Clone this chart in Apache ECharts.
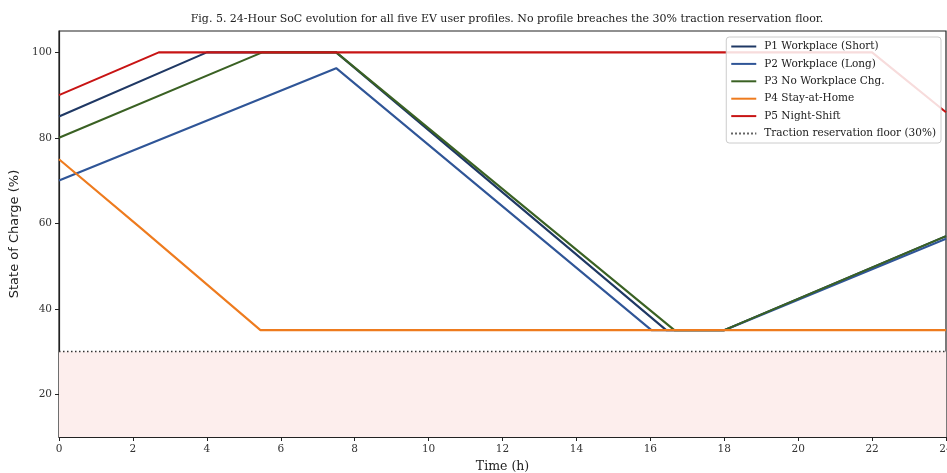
<!DOCTYPE html>
<html>
<head>
<meta charset="utf-8">
<script src="https://cdn.jsdelivr.net/npm/echarts@6/dist/echarts.min.js"></script>
<style>
  html, body { margin: 0; padding: 0; background: #fff; }
  #soc-chart { width: 947px; height: 473px; }
</style>
</head>
<body>
<div id="soc-chart"></div>
<script>
// 24 小时 SoC 曲线 - 五类用户
const profileNames = ['P1 Workplace (Short)', 'P2 Workplace (Long)', 'P3 No Workplace Chg.', 'P4 Stay-at-Home', 'P5 Night-Shift'];
const floorName = 'Traction reservation floor (30%)';

const p1Time = [0, 4.0, 7.5, 16.43, 18, 24];
const p1Soc = [85, 100, 100, 35, 35, 57];
const p2Time = [0, 7.5, 16.03, 18, 24];
const p2Soc = [70, 96.3, 35, 35, 56.4];
const p3Time = [0, 5.5, 7.5, 16.65, 18, 24];
const p3Soc = [80, 100, 100, 35, 35, 57];
const p4Time = [0, 2.2, 5.45, 24];
const p4Soc = [75, 59, 35, 35];
const p5Time = [0, 2.7, 22.0, 24];
const p5Soc = [90, 100, 100, 86];

const floorSoc = 30;
const xTicks = [0, 2, 4, 6, 8, 10, 12, 14, 16, 18, 20, 22, 24];
const yTicks = [20, 40, 60, 80, 100];

const colors = ['#1f3864', '#2f5597', '#3a6123', '#ee7b1e', '#c81414'];
const serif = 'DejaVu Serif';

function pairs(t, v) {
  return t.map((x, i) => [x, v[i]]);
}

const chart = echarts.init(document.getElementById('soc-chart'), null, { renderer: 'canvas' });

const profileSeries = [
  [p1Time, p1Soc], [p2Time, p2Soc], [p3Time, p3Soc], [p4Time, p4Soc], [p5Time, p5Soc]
].map((d, i) => ({
  name: profileNames[i],
  type: 'line',
  data: pairs(d[0], d[1]),
  symbol: 'none',
  z: 3,
  lineStyle: { color: colors[i], width: 2.1 },
  itemStyle: { color: colors[i] }
}));

const option = {
  backgroundColor: '#fff',
  animation: false,
  title: {
    text: 'Fig. 5. 24-Hour SoC evolution for all five EV user profiles. No profile breaches the 30% traction reservation floor.',
    left: 502,
    textAlign: 'center',
    top: 9,
    textStyle: { fontFamily: serif, fontSize: 11, fontWeight: 'normal', color: '#222' }
  },
  legend: {
    orient: 'vertical',
    right: 6,
    top: 37,
    data: profileNames.concat([floorName]),
    itemWidth: 25,
    itemHeight: 10,
    itemGap: 6.4,
    padding: [4, 5, 4, 4],
    backgroundColor: 'rgba(255,255,255,0.85)',
    borderColor: '#cccccc',
    borderWidth: 1,
    borderRadius: 3,
    itemStyle: { opacity: 0 },
    textStyle: { fontFamily: serif, fontSize: 10.5, color: '#222', padding: [0, 0, 0, 3] }
  },
  grid: {
    left: 59, right: 1, top: 31, bottom: 36,
    outerBoundsMode: 'none',
    containLabel: false,
    show: true, borderColor: '#222', borderWidth: 1.2
  },
  xAxis: {
    type: 'value',
    min: 0, max: 24, interval: 2,
    name: 'Time (h)',
    nameLocation: 'middle',
    nameGap: 23,
    nameTextStyle: { fontFamily: serif, fontSize: 12.5, color: '#222' },
    axisLine: { lineStyle: { color: '#222', width: 1.2 } },
    axisTick: { show: true, length: 4, lineStyle: { color: '#222' } },
    axisLabel: { fontFamily: serif, fontSize: 10.5, color: '#333', margin: 7, customValues: xTicks },
    splitLine: { show: false }
  },
  yAxis: {
    type: 'value',
    min: 10, max: 105,
    name: 'State of Charge (%)',
    nameLocation: 'middle',
    nameGap: 36,
    nameTextStyle: { fontFamily: 'DejaVu Sans', fontSize: 13, color: '#222' },
    axisLine: { show: true, lineStyle: { color: '#222', width: 1.2 } },
    axisTick: { show: true, length: 4, lineStyle: { color: '#222' }, customValues: yTicks },
    axisLabel: { fontFamily: serif, fontSize: 10.5, color: '#333', margin: 7, customValues: yTicks },
    splitLine: { show: false }
  },
  series: profileSeries.concat([
    {
      name: floorName,
      type: 'line',
      data: [[0, floorSoc], [24, floorSoc]],
      symbol: 'none',
      z: 2,
      lineStyle: { color: '#333', width: 1.4, type: [1.5, 2.5] },
      itemStyle: { color: '#333' },
      markArea: {
        silent: true,
        itemStyle: { color: '#fdeeed' },
        data: [[{ yAxis: 10 }, { yAxis: floorSoc }]]
      }
    }
  ])
};

chart.setOption(option);
</script>
</body>
</html>
